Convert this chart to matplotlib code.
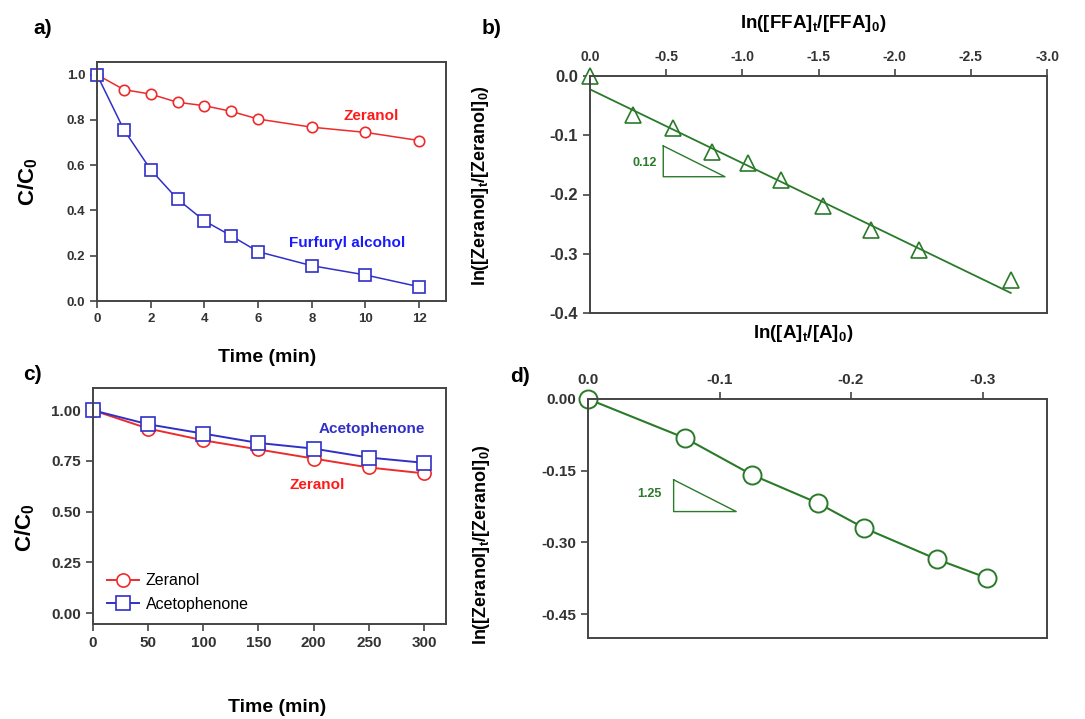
import numpy as np
import matplotlib
matplotlib.use("Agg")
import matplotlib.pyplot as plt

plt.rcParams['font.family'] = ['Liberation Sans', 'DejaVu Sans']
plt.rcParams['mathtext.fontset'] = 'custom'
plt.rcParams['mathtext.rm'] = 'Liberation Sans:bold'
plt.rcParams['mathtext.bf'] = 'Liberation Sans:bold'
plt.rcParams['mathtext.default'] = 'bf'

# panel a: C/C0 vs time (min)
t_a = [0, 1, 2, 3, 4, 5, 6, 8, 10, 12]
zer_a = [1.0, 0.934, 0.914, 0.878, 0.863, 0.838, 0.804, 0.768, 0.745, 0.709]
ffa_a = [1.0, 0.757, 0.580, 0.450, 0.354, 0.288, 0.218, 0.156, 0.115, 0.063]

# panel b: ln(Zeranol) vs ln(FFA)
ln_ffa = [0.0, -0.28, -0.547, -0.803, -1.039, -1.253, -1.531, -1.843, -2.160, -2.762]
ln_zer_b = [0.0, -0.066, -0.087, -0.128, -0.146, -0.176, -0.219, -0.260, -0.293, -0.344]
fit_b_slope = 0.1244
fit_b_icpt = -0.0225

# panel c: C/C0 vs time (min)
t_c = [0, 50, 100, 150, 200, 250, 300]
zer_c = [1.0, 0.91, 0.852, 0.807, 0.762, 0.718, 0.689]
ace_c = [1.0, 0.931, 0.885, 0.839, 0.811, 0.767, 0.741]

# panel d: ln(Zeranol) vs ln(A)
ln_a = [0.0, -0.074, -0.125, -0.175, -0.210, -0.265, -0.303]
ln_zer_d = [0.0, -0.082, -0.159, -0.218, -0.270, -0.335, -0.374]

red = '#ee2b2b'
blue = '#3030c8'
green = '#2a7a2a'
frame = '#444444'
tickc = '#333333'
narrow = ['Liberation Sans Narrow', 'Liberation Sans', 'DejaVu Sans']

W, H = 1085, 719
fig = plt.figure(figsize=(W / 100, H / 100), dpi=100)


def box(l, t, r, b):
    return [l / W, 1 - b / H, (r - l) / W, (b - t) / H]


def ftext(x, y, s, **kw):
    fig.text(x / W, 1 - y / H, s, ha='center', va='center', **kw)


def style(ax, size, family=None):
    for sp in ax.spines.values():
        sp.set_color(frame)
        sp.set_linewidth(1.4)
    ax.tick_params(direction='out', length=5, width=1.2, color=frame,
                   labelsize=size, labelcolor=tickc)
    for lab in ax.get_xticklabels() + ax.get_yticklabels():
        lab.set_fontweight('bold')
        if family:
            lab.set_family(family)


# ---- a)
ax = fig.add_axes(box(97, 62, 446, 301))
ax.plot(t_a, zer_a, '-o', color=red, mfc='white', ms=7.5, mew=1.2, lw=1.1, clip_on=False)
ax.plot(t_a, ffa_a, '-s', color=blue, mfc='white', ms=9, mew=1.2, lw=1.1, clip_on=False)
ax.set_xlim(0, 13)
ax.set_ylim(0, 1.056)
ax.set_xticks(range(0, 13, 2))
ax.set_yticks([0, 0.2, 0.4, 0.6, 0.8, 1.0])
ax.set_yticklabels(['0.0', '0.2', '0.4', '0.6', '0.8', '1.0'])
style(ax, 9.5, narrow)
ax.text(10.2, 0.80, 'Zeranol', color='#ff1a1a', fontsize=11, fontweight='bold', ha='center')
ax.text(9.3, 0.24, 'Furfuryl alcohol', color='#1a1aff', fontsize=11, fontweight='bold', ha='center')

# ---- b)
ax = fig.add_axes(box(590, 76, 1047, 313))
ax.plot(ln_ffa, ln_zer_b, '^', color=green, mfc='white', ms=11, mew=1.2, ls='none', clip_on=False)
xf = np.array([0, ln_ffa[-1]])
ax.plot(xf, fit_b_icpt + fit_b_slope * xf, color=green, lw=1.3)
ax.plot([-0.481, -0.481, -0.886, -0.481], [-0.118, -0.170, -0.170, -0.118], color=green, lw=1)
ax.text(-0.36, -0.147, '0.12', color=green, fontsize=9, fontweight='bold', ha='center', va='center')
ax.set_xlim(0, -3.0)
ax.set_ylim(-0.4, 0.0)
ax.xaxis.tick_top()
ax.set_xticks([0, -0.5, -1.0, -1.5, -2.0, -2.5, -3.0])
ax.set_xticklabels(['0.0', '-0.5', '-1.0', '-1.5', '-2.0', '-2.5', '-3.0'])
ax.set_yticks([0, -0.1, -0.2, -0.3, -0.4])
ax.set_yticklabels(['0.0', '-0.1', '-0.2', '-0.3', '-0.4'])
style(ax, 10)
ax.tick_params(axis='y', labelsize=12)

# ---- c)
ax = fig.add_axes(box(93, 388, 446, 624))
ax.plot(t_c, zer_c, '-o', color=red, mfc='white', ms=9.5, mew=1.2, lw=1.4, label='Zeranol', clip_on=False)
ax.plot(t_c, ace_c, '-s', color=blue, mfc='white', ms=10, mew=1.2, lw=1.4, label='Acetophenone', clip_on=False)
ax.set_xlim(0, 320)
ax.set_ylim(-0.054, 1.11)
ax.set_xticks(t_c)
ax.set_yticks([0, 0.25, 0.5, 0.75, 1.0])
ax.set_yticklabels(['0.00', '0.25', '0.50', '0.75', '1.00'])
style(ax, 11, narrow)
ax.text(253, 0.89, 'Acetophenone', color=blue, fontsize=11, fontweight='bold', ha='center')
ax.text(203, 0.61, 'Zeranol', color='#ff1a1a', fontsize=11, fontweight='bold', ha='center')
ax.legend(loc='lower left', bbox_to_anchor=(0.0, -0.01), frameon=False, fontsize=11.5,
          handlelength=2.0, handletextpad=0.4, labelspacing=0.55)

# ---- d)
ax = fig.add_axes(box(588, 399, 1047, 638))
ax.plot(ln_a, ln_zer_d, '-o', color=green, mfc='white', ms=13, mew=1.4, lw=1.5, clip_on=False)
ax.plot([-0.0651, -0.0651, -0.1127, -0.0651], [-0.169, -0.2355, -0.2355, -0.169], color=green, lw=1)
ax.text(-0.047, -0.198, '1.25', color=green, fontsize=9, fontweight='bold', ha='center', va='center')
ax.set_xlim(0, -0.349)
ax.set_ylim(-0.5, 0.0)
ax.xaxis.tick_top()
ax.set_xticks([0, -0.1, -0.2, -0.3])
ax.set_xticklabels(['0.0', '-0.1', '-0.2', '-0.3'])
ax.set_yticks([0, -0.15, -0.30, -0.45])
ax.set_yticklabels(['0.00', '-0.15', '-0.30', '-0.45'])
style(ax, 11)

# axis titles and panel letters
ftext(43, 28, 'a)', fontsize=15, fontweight='bold')
ftext(492, 28, 'b)', fontsize=15, fontweight='bold')
ftext(32, 375, 'c)', fontsize=15, fontweight='bold')
ftext(520, 377, 'd)', fontsize=15, fontweight='bold')
ftext(28, 182, 'C/C$_0$', fontsize=16, fontweight='bold', rotation=90)
ftext(267, 358, 'Time (min)', fontsize=14, fontweight='bold')
ftext(25, 528, 'C/C$_0$', fontsize=16, fontweight='bold', rotation=90)
ftext(277, 708, 'Time (min)', fontsize=14, fontweight='bold')
ftext(813, 23, 'ln([FFA]$_t$/[FFA]$_0$)', fontsize=13.5, fontweight='bold')
ftext(803, 334, 'ln([A]$_t$/[A]$_0$)', fontsize=13.5, fontweight='bold')
ftext(480, 186, 'ln([Zeranol]$_t$/[Zeranol]$_0$)', fontsize=13, fontweight='bold', rotation=90)
ftext(482, 545, 'ln([Zeranol]$_t$/[Zeranol]$_0$)', fontsize=13, fontweight='bold', rotation=90)

fig.savefig('out.png', dpi=100)
